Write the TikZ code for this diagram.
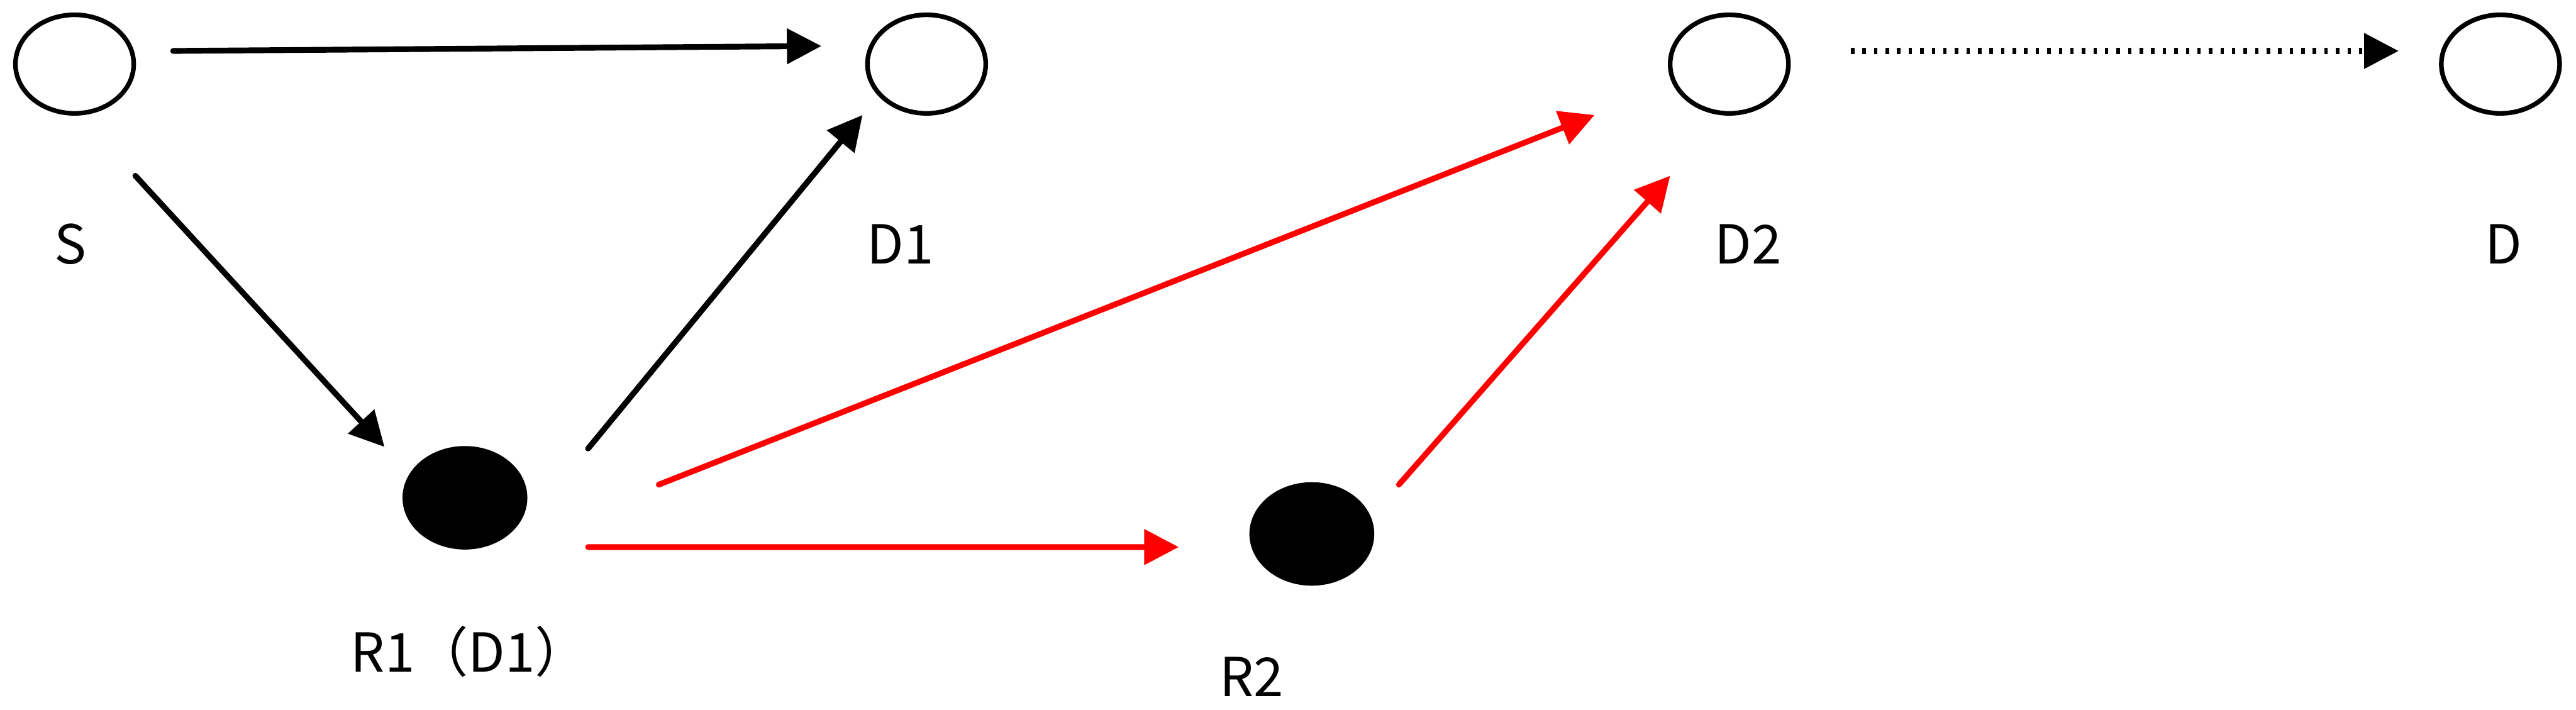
\documentclass[tikz,border=0pt]{standalone}
\usepackage{fontspec}
\setmainfont{Noto Sans CJK SC}
\usepackage{tikz}
\usetikzlibrary{shapes.geometric, arrows.meta, positioning, calc}

\begin{document}
\begin{tikzpicture}[
  station/.style={ellipse, draw, line width=0.8pt, minimum width=0.72cm, minimum height=0.60cm, inner sep=0pt},
  relay/.style={ellipse, fill=black, minimum width=0.76cm, minimum height=0.63cm, inner sep=0pt},
  lbl/.style={anchor=base, inner sep=0pt, font=\fontsize{9.3}{11}\selectfont},
  link/.style={line width=1pt, line cap=round, -{Triangle[length=0.21cm, width=0.21cm]}},
  redlink/.style={link, red}
]
  \useasboundingbox (0,0) rectangle (15.68,-4.32);

  \node[station] (s) at (0.454,-0.39) {};
  \node[station] (d1) at (5.64,-0.39) {};
  \node[station] (d2) at (10.526,-0.39) {};
  \node[station] (d) at (15.22,-0.39) {};
  \node[relay] (r1) at (2.83,-3.03) {};
  \node[relay] (r2) at (7.985,-3.25) {};

  \node[lbl] (s-lbl) at (0.43,-1.605) {S};
  \node[lbl] (d1-lbl) at (5.48,-1.605) {D1};
  \node[lbl] (d2-lbl) at (10.64,-1.605) {D2};
  \node[lbl] (d-lbl) at (15.24,-1.605) {D};
  \node[lbl] (r1-lbl) at (2.86,-4.09) {R1（D1）};
  \node[lbl] (r2-lbl) at (7.62,-4.24) {R2};

  \draw[link] ($(s)+(0.60,0.08)$) -- ($(d1)+(-0.64,0.11)$);
  \draw[link] ($(s)+(0.37,-0.68)$) -- ($(r1)+(-0.49,0.31)$);
  \draw[link] ($(r1)+(0.75,0.30)$) -- ($(d1)+(-0.39,-0.31)$);
  \draw[redlink] ($(r1)+(1.18,0.08)$) -- ($(d2)+(-0.82,-0.31)$);
  \draw[redlink] ($(r1)+(0.75,-0.30)$) -- ($(r2)+(-0.81,-0.08)$);
  \draw[redlink] ($(r2)+(0.53,0.30)$) -- ($(d2)+(-0.36,-0.68)$);
  \draw[link, dash pattern=on 0.6pt off 1.4pt, line cap=butt] ($(d2)+(0.74,0.08)$) -- ($(d)+(-0.62,0.08)$);
\end{tikzpicture}
\end{document}
